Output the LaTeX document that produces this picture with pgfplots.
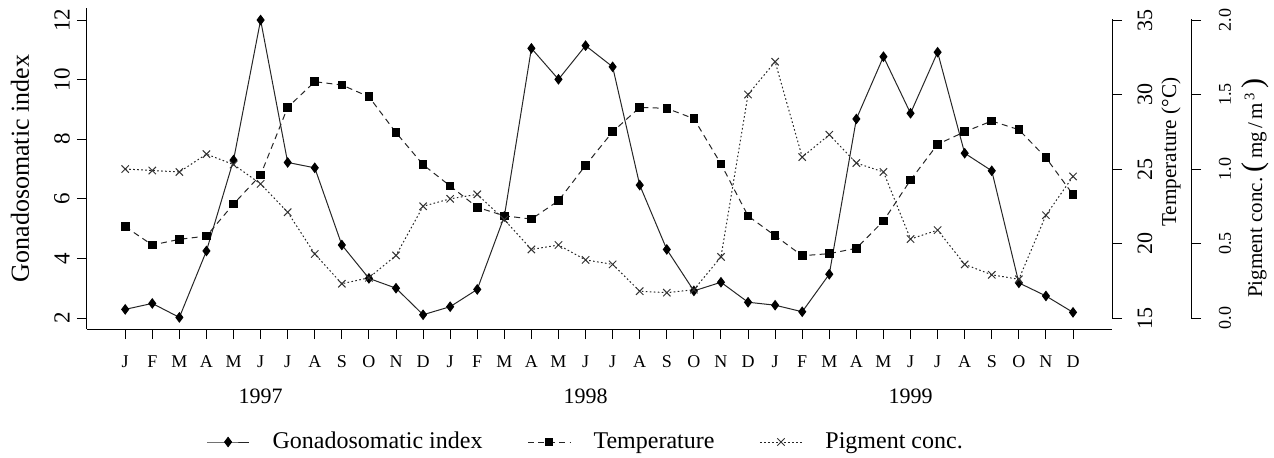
\documentclass[border=0pt]{standalone}
\usepackage{fontspec}
\setmainfont{Liberation Serif}
\usepackage{pgfplots}
\usepackage{pgfplotstable}
\pgfplotsset{compat=1.18}

\pgfplotstableread{
m gsi temp pig
1 2.29 21.13 1.00
2 2.49 19.90 0.99
3 2.02 20.28 0.98
4 4.25 20.50 1.10
5 7.30 22.65 1.03
6 12.00 24.60 0.90
7 7.22 29.14 0.71
8 7.04 30.86 0.43
9 4.45 30.64 0.23
10 3.33 29.85 0.27
11 3.00 27.44 0.42
12 2.11 25.29 0.75
13 2.38 23.86 0.80
14 2.96 22.43 0.83
15 5.41 21.86 0.66
16 11.05 21.64 0.46
17 10.01 22.87 0.49
18 11.14 25.25 0.39
19 10.43 27.50 0.36
20 6.46 29.14 0.18
21 4.30 29.07 0.17
22 2.91 28.38 0.19
23 3.20 25.34 0.41
24 2.53 21.85 1.50
25 2.43 20.52 1.72
26 2.21 19.18 1.08
27 3.47 19.32 1.23
28 8.68 19.68 1.04
29 10.77 21.51 0.98
30 8.87 24.26 0.53
31 10.92 26.66 0.59
32 7.53 27.50 0.36
33 6.94 28.22 0.29
34 3.18 27.64 0.26
35 2.74 25.76 0.69
36 2.19 23.28 0.95
}\data

\pgfplotsset{
  base/.style={scale only axis, width=512.5pt, height=160.5pt,
    xmin=-0.411, xmax=37.44, clip=false,
    tick align=outside, major tick length=5pt,
    tick style={black, line width=0.5pt},
    /pgf/number format/assume math mode=true},
  gsistyle/.style={black!85, line width=0.5pt, solid, mark=diamond*, mark size=2.3pt, mark options={solid, black}},
  tempstyle/.style={black!85, line width=0.5pt, dash pattern=on 3pt off 2.2pt, mark=square*, mark size=1.9pt, mark options={solid, black}},
  pigstyle/.style={black!85, line width=0.5pt, dash pattern=on 0.8pt off 1.2pt, mark=x, mark size=2.6pt, mark options={solid, black!80}},
}

\begin{document}
\begin{tikzpicture}
\useasboundingbox (-43.5pt,-64pt) rectangle (593.5pt,164.5pt);

% GSI axis (left) with x axis
\begin{axis}[base, ymin=1.631, ymax=12.403,
  axis x line*=bottom, axis y line*=left,
  x axis line style={-, line width=0.5pt}, y axis line style={-, line width=0.5pt},
  xtick={1,...,36},
  xticklabels={J,F,M,A,M,J,J,A,S,O,N,D,J,F,M,A,M,J,J,A,S,O,N,D,J,F,M,A,M,J,J,A,S,O,N,D},
  xticklabel style={font=\fontsize{9}{9}\selectfont, anchor=center, yshift=-11.5pt},
  ytick={2,4,...,12},
  yticklabel style={font=\fontsize{11.5}{11.5}\selectfont, xshift=-7.5pt, rotate=90, anchor=center},
  ylabel={Gonadosomatic index},
  every axis y label/.style={at={(axis description cs:-0.0654,0.5)}, rotate=90, anchor=center, font=\fontsize{13}{13}\selectfont},
  legend columns=3,
  legend image code/.code={\draw[mark repeat=2,mark phase=2,#1] plot coordinates {(0pt,0pt) (10.5pt,0pt) (21pt,0pt)};},
  legend style={draw=none, fill=none, at={(0.4875,-0.352)}, anchor=center,
    font=\fontsize{12}{12}\selectfont,
    /tikz/every odd column/.append style={column sep=9.5pt},
    /tikz/every even column/.append style={column sep=20.5pt},
    /tikz/column 4/.append style={column sep=28pt}},
]
\addplot[gsistyle] table[x=m, y=gsi]{\data};
\addlegendentry{Gonadosomatic index}
\addlegendimage{tempstyle}
\addlegendentry{Temperature}
\addlegendimage{pigstyle}
\addlegendentry{Pigment conc.}
\node[font=\fontsize{11}{11}\selectfont] at (axis cs:6,-0.617) {1997};
\node[font=\fontsize{11}{11}\selectfont] at (axis cs:18,-0.617) {1998};
\node[font=\fontsize{11}{11}\selectfont] at (axis cs:30,-0.617) {1999};
\end{axis}

% Temperature axis
\begin{axis}[base, ymin=14.262, ymax=35.806,
  hide x axis, axis y line*=right,
  y axis line style={-, line width=0.5pt, shorten <=5.6pt, shorten >=5.6pt},
  ytick={15,20,...,35},
  yticklabel style={font=\fontsize{11}{11}\selectfont, xshift=11.5pt, rotate=90, anchor=center},
  ylabel={Temperature (°C)},
  every axis y label/.style={at={(axis description cs:1.0576,0.551)}, rotate=90, anchor=center, font=\fontsize{10.6}{10.6}\selectfont},
]
\addplot[tempstyle] table[x=m, y=temp]{\data};
\end{axis}

% Pigment data axis
\begin{axis}[base, ymin=-0.0738, ymax=2.0806, hide axis]
\addplot[pigstyle] table[x=m, y=pig]{\data};
\end{axis}

% Pigment scale axis (offset)
\begin{axis}[scale only axis, width=1pt, height=160.5pt, at={(551pt,0pt)}, anchor=south west,
  xmin=0, xmax=1, ymin=-0.0738, ymax=2.0806, clip=false,
  hide x axis, axis y line*=right,
  tick align=outside, major tick length=5pt, tick style={black, line width=0.5pt},
  y axis line style={-, line width=0.5pt, shorten <=5.6pt, shorten >=5.6pt},
  ytick={0,0.5,1,1.5,2}, yticklabels={0.0,0.5,1.0,1.5,2.0},
  yticklabel style={font=\fontsize{9}{9}\selectfont, xshift=12pt, rotate=90, anchor=center},
  ylabel={Pigment conc.\ {\fontsize{15}{15}\selectfont(}\,mg\,/\,m\textsuperscript{\,3}\,{\fontsize{15}{15}\selectfont)}},
  every axis y label/.style={at={(axis description cs:1,0.439)}, xshift=32pt, rotate=90, anchor=center, font=\fontsize{10.5}{10.5}\selectfont},
]
\end{axis}
\end{tikzpicture}
\end{document}
